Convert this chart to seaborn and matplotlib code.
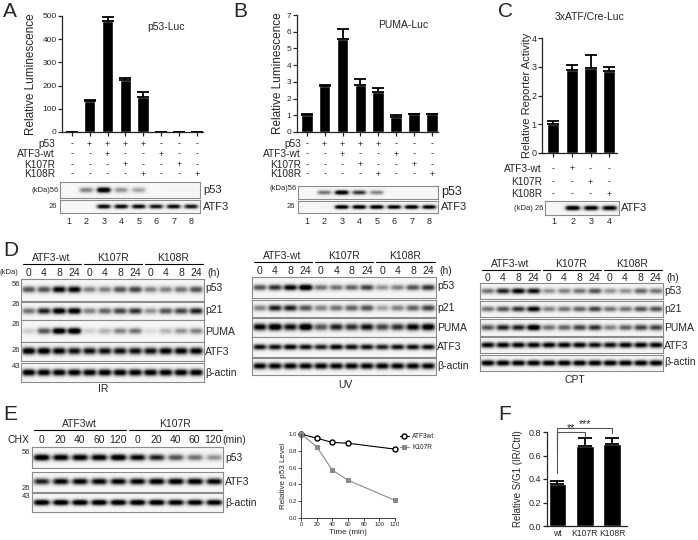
import numpy as np
import pandas as pd
import matplotlib
matplotlib.use('Agg')
import matplotlib.pyplot as plt
import seaborn as sns

sns.set_style('ticks')
plt.rcParams['font.family'] = ['Liberation Sans', 'DejaVu Sans']
plt.rcParams['axes.linewidth'] = 0.9
plt.rcParams['xtick.major.width'] = 0.9
plt.rcParams['ytick.major.width'] = 0.9

W, H = 698, 540

# ---- reporter assays ----
a_vals = [2, 135, 480, 222, 150, 2, 2, 2]
a_errs = [0, 5, 15, 10, 22, 0, 0, 0]
b_vals = [1.0, 2.75, 5.55, 2.8, 2.4, 0.92, 1.05, 1.05]
b_errs = [0.07, 0.08, 0.6, 0.35, 0.25, 0.1, 0.04, 0.05]
c_vals = [1.02, 2.9, 2.95, 2.85]
c_errs = [0.1, 0.17, 0.45, 0.15]

ab_rows = ['p53', 'ATF3-wt', 'K107R', 'K108R']
ab_signs = ['-++++---', '--+--+--', '---+--+-', '----+--+']
c_rows = ['ATF3-wt', 'K107R', 'K108R']
c_signs = ['-+--', '--+-', '---+']

# ---- CHX chase and S/G1 ----
chx_time = [0, 20, 40, 60, 120]
p53_wt = [1.0, 0.95, 0.9, 0.89, 0.82]
p53_k107r = [1.0, 0.85, 0.57, 0.45, 0.21]
f_groups = ['wt', 'K107R', 'K108R']
f_vals = [0.36, 0.68, 0.70]
f_errs = [0.02, 0.065, 0.05]

# ---- blot band intensities (0 = no band, 1 = saturated), read by eye ----
a_blot = {'p53': [0, .45, .95, .4, .35, 0, .03, .03],
          'ATF3': [0, 0, .85, .85, .85, .8, .85, .8]}
b_blot = {'p53': [0, .5, .95, .7, .45, 0, 0, 0],
          'ATF3': [0, .03, .95, .95, .95, .9, .95, .9]}
c_blot = {'ATF3': [0, .95, .9, .9]}
ir_blot = {'p53': [.6, .6, .85, .85, .45, .45, .6, .65, .45, .45, .5, .6],
           'p21': [.5, .75, .9, .9, .45, .55, .65, .7, .4, .6, .65, .75],
           'PUMA': [.2, .6, .95, .98, .2, .3, .45, .5, .15, .3, .4, .45],
           'ATF3': [.9, .9, .85, .8, .8, .8, .8, .8, .8, .85, .85, .85],
           'β-actin': [.9, .88, .88, .88, .88, .9, .88, .88, .88, .88, .88, .88]}
uv_blot = {'p53': [.6, .7, .85, .98, .5, .5, .55, .65, .4, .45, .6, .7],
           'p21': [.45, .75, .75, .6, .45, .5, .55, .6, .35, .45, .55, .65],
           'PUMA': [.85, .95, .8, .98, .6, .75, .7, .8, .65, .7, .85, .9],
           'ATF3': [.8, .8, .85, .8, .75, .85, .8, .8, .75, .8, .8, .8],
           'β-actin': [.85, .85, .85, .85, .85, .85, .85, .85, .85, .85, .85, .85]}
cpt_blot = {'p53': [.5, .75, .85, .8, .4, .45, .5, .6, .4, .4, .55, .5],
            'p21': [.5, .6, .7, .85, .45, .5, .55, .65, .5, .5, .6, .6],
            'PUMA': [.6, .75, .75, .95, .5, .55, .65, .7, .45, .55, .65, .65],
            'ATF3': [.85, .85, .85, .85, .85, .85, .85, .8, .8, .85, .85, .85],
            'β-actin': [.9, .9, .9, .9, .9, .9, .9, .9, .9, .9, .9, .9]}
e_blot = {'p53': [.95, .9, .9, .9, .95, .85, .75, .6, .5, .4],
          'ATF3': [.75, .85, .85, .85, .85, .85, .9, .9, .9, .85],
          'β-actin': [.95, .95, .95, .95, .95, .95, .95, .9, .9, .9]}

d_groups = ['ATF3-wt', 'K107R', 'K108R']
d_hours = ['0', '4', '8', '24']
e_groups = ['ATF3wt', 'K107R']
e_minutes = ['0', '20', '40', '60', '120']

fig = plt.figure(figsize=(W / 100, H / 100), dpi=100)

# overlay in pixel coordinates for labels, tables and lines
ov = fig.add_axes([0, 0, 1, 1])
ov.set_xlim(0, W)
ov.set_ylim(H, 0)
ov.axis('off')
ov.patch.set_visible(False)
ov.set_zorder(10)


def px_axes(x0, y0, x1, y1):
    return fig.add_axes([x0 / W, 1 - y1 / H, (x1 - x0) / W, (y1 - y0) / H])


def txt(x, y, s, size=7, ha='center', va='center', **kw):
    ov.text(x, y, s, fontsize=size, ha=ha, va=va, **kw)


def data_px(x0, x1, xlim, v):
    return x0 + (v - xlim[0]) / (xlim[1] - xlim[0]) * (x1 - x0)


def bar_panel(box, vals, errs, xlim, ylim, yticks, ylabel, label_x,
              fs=6, lab_fs=8.5, cap=4, xlabels=None):
    x0, y0, x1, y1 = box
    ax = px_axes(x0, y0, x1, y1)
    n = len(vals)
    df = pd.DataFrame({'pos': [str(i) for i in range(n)], 'val': vals})
    sns.barplot(data=df, x='pos', y='val', color='black', saturation=1,
                width=0.65, errorbar=None, ax=ax)
    ax.errorbar(np.arange(n), vals, yerr=[np.zeros(n), errs], fmt='none',
                ecolor='black', elinewidth=1.3, capsize=cap, capthick=1.3)
    ax.set_xlim(*xlim)
    ax.set_ylim(*ylim)
    ax.set_yticks(yticks)
    ax.set_xticks(range(n))
    ax.set_xticklabels(xlabels if xlabels else [])
    ax.set_xlabel('')
    ax.set_ylabel(ylabel, fontsize=lab_fs)
    ax.yaxis.set_label_coords((label_x - x0) / (x1 - x0), 0.5)
    ax.tick_params(labelsize=fs, length=3, pad=1)
    sns.despine(ax=ax)
    return ax


def blot(box, levels, band=0.38, hw=0.42):
    x0, y0, x1, y1 = box
    ax = px_axes(x0, y0, x1, y1)
    n = len(levels)
    gx = np.linspace(0, n, int((x1 - x0) * 4))
    gy = np.linspace(-1, 1, int((y1 - y0) * 4))
    img = np.full((len(gy), len(gx)), 0.07)
    vp = np.exp(-(gy / band) ** 2)
    for i, lv in enumerate(levels):
        hp = np.exp(-((gx - (i + 0.5)) / hw) ** 4)
        img += lv * 1.15 * vp[:, None] * hp[None, :]
    ax.imshow(np.clip(img, 0, 1), cmap='Greys', vmin=0, vmax=1,
              extent=(0, n, 0, 1), aspect='auto', interpolation='bilinear')
    ax.set_xticks([])
    ax.set_yticks([])
    for s in ax.spines.values():
        s.set_color('#8c8c8c')
        s.set_linewidth(0.8)
    return ax


def lane_centers(x0, x1, n):
    w = (x1 - x0) / n
    return [x0 + (i + 0.5) * w for i in range(n)]


# ---------------- A ----------------
txt(3, 2, 'A', size=15, ha='left', va='top')
a_box, a_xlim = (62, 16, 203, 132), (-0.55, 7.35)
bar_panel(a_box, a_vals, a_errs, a_xlim, (0, 500), range(0, 501, 100),
          'Relative Luminescence', 37)
txt(147, 27, 'p53-Luc', size=7.5, ha='left')
for r, (lab, signs) in enumerate(zip(ab_rows, ab_signs)):
    y = [144, 154, 165, 174][r]
    txt(55, y, lab, size=7.3, ha='right')
    for i, s in enumerate(signs):
        txt(data_px(62, 203, a_xlim, i), y, s, size=6.5)
blot((60, 182, 200, 198), a_blot['p53'])
blot((60, 200, 200, 213), a_blot['ATF3'])
txt(59, 190, '(kDa)56', size=5.5, ha='right')
txt(57, 207, '26', size=5.5, ha='right')
txt(203, 190, 'p53', size=8, ha='left')
txt(203, 207, 'ATF3', size=8, ha='left')
for i, x in enumerate(lane_centers(60, 200, 8)):
    txt(x, 221, str(i + 1), size=6.5)

# ---------------- B ----------------
txt(233, 2, 'B', size=15, ha='left', va='top')
b_box, b_xlim = (297, 15, 438, 132), (-0.55, 7.35)
bar_panel(b_box, b_vals, b_errs, b_xlim, (0, 7), range(0, 8),
          'Relative Luminescence', 284)
txt(378, 25, 'PUMA-Luc', size=7.5, ha='left')
for r, (lab, signs) in enumerate(zip(ab_rows, ab_signs)):
    y = [144, 154, 165, 174][r]
    txt(301, y, lab, size=7.3, ha='right')
    for i, s in enumerate(signs):
        txt(data_px(297, 438, b_xlim, i), y, s, size=6.5)
blot((298, 186, 438, 199), b_blot['p53'])
blot((298, 201, 438, 213), b_blot['ATF3'])
txt(297, 188, '(kDa)56', size=5.5, ha='right')
txt(295, 207, '26', size=5.5, ha='right')
txt(441, 192, 'p53', size=9, ha='left')
txt(441, 207, 'ATF3', size=8, ha='left')
for i, x in enumerate(lane_centers(298, 438, 8)):
    txt(x, 221, str(i + 1), size=6.5)

# ---------------- C ----------------
txt(498, 2, 'C', size=15, ha='left', va='top')
c_box, c_xlim = (542, 38, 617, 153), (-0.6, 3.42)
bar_panel(c_box, c_vals, c_errs, c_xlim, (0, 4), range(0, 5),
          'Relative Reporter Activity', 532, fs=6.5, lab_fs=8)
txt(590, 17, '3xATF/Cre-Luc', size=7.5)
for r, (lab, signs) in enumerate(zip(c_rows, c_signs)):
    y = [169, 182, 194][r]
    txt(542, y, lab, size=7.3, ha='right')
    for i, s in enumerate(signs):
        txt(data_px(542, 617, c_xlim, i), y, s, size=6.5)
blot((545, 201, 619, 215), c_blot['ATF3'])
txt(543, 208, '(kDa) 26', size=5.5, ha='right')
txt(621, 208, 'ATF3', size=8, ha='left')
for i, x in enumerate(lane_centers(545, 619, 4)):
    txt(x, 221, str(i + 1), size=6.5)

# ---------------- D ----------------
txt(3, 241, 'D', size=15, ha='left', va='top')
d_layout = [
    ('IR', ir_blot, (21, 204), 258, 264, 273,
     [(279, 301), (302, 320), (320, 342), (342, 361), (363, 382)],
     [288, 310, 332, 352, 373], (103, 389)),
    ('UV', uv_blot, (252, 436), 256, 262, 271,
     [(277, 298), (300, 317), (318, 337), (337, 357), (358, 375)],
     [286, 308, 328, 347, 366], (345, 385)),
    ('CPT', cpt_blot, (480, 663), 264, 270, 278,
     [(283, 299), (301, 317), (319, 336), (337, 353), (355, 371)],
     [291, 309, 328, 346, 362], (575, 380)),
]
for name, bands, (x0, x1), hy, ly, ty, rows, lab_y, name_xy in d_layout:
    lw_ = (x1 - x0) / 12
    for g, grp in enumerate(d_groups):
        gx0, gx1 = x0 + 4 * g * lw_ + 1.5, x0 + 4 * (g + 1) * lw_ - 1.5
        ov.plot([gx0, gx1], [ly, ly], color='black', lw=0.8)
        txt((gx0 + gx1) / 2, hy, grp, size=7.5)
    for i, x in enumerate(lane_centers(x0, x1, 12)):
        txt(x, ty, d_hours[i % 4], size=7.5)
    txt(x1 + 3, ty, '(h)', size=7.5, ha='left')
    for (ry0, ry1), (lab, lv), yl in zip(rows, bands.items(), lab_y):
        blot((x0, ry0, x1, ry1), lv, band=0.32 if ry1 - ry0 > 19 else 0.4,
             hw=0.46)
        txt(x1 + 1, yl, lab, size=7.5, ha='left')
    txt(*name_xy, name, size=7.5)
txt(0, 273, '(kDa)', size=5.5, ha='left')
for y, mw in zip([284, 305, 325, 351, 367], ['56', '26', '26', '26', '43']):
    txt(20, y, mw, size=5.5, ha='right')

# ---------------- E ----------------
txt(3, 405, 'E', size=15, ha='left', va='top')
ex0, ex1 = 32, 223
elw = (ex1 - ex0) / 10
for g, grp in enumerate(e_groups):
    gx0, gx1 = ex0 + 5 * g * elw + 1.5, ex0 + 5 * (g + 1) * elw - 1.5
    ov.plot([gx0, gx1], [430, 430], color='black', lw=0.8)
    txt((gx0 + gx1) / 2, 424, grp, size=7.5)
txt(7, 440, 'CHX', size=7.5, ha='left')
for i, x in enumerate(lane_centers(ex0, ex1, 10)):
    txt(x, 440, e_minutes[i % 5], size=7.5)
txt(222, 440, '(min)', size=7.5, ha='left')
for (ry0, ry1), (lab, lv), yl in zip([(447, 468), (472, 492), (493, 512)],
                                     e_blot.items(), [458, 482, 503]):
    blot((ex0, ry0, ex1, ry1), lv, band=0.34, hw=0.44)
    txt(ex1 + 2, yl, lab, size=7.5, ha='left')
for y, mw in zip([452, 488, 496], ['56', '26', '43']):
    txt(30, y, mw, size=5.5, ha='right')

ax_e = px_axes(301, 434, 395, 518)
sns.lineplot(x=chx_time, y=p53_wt, ax=ax_e, color='black', lw=0.8,
             marker='o', markersize=3.6, markerfacecolor='white',
             markeredgecolor='black', markeredgewidth=1.0, clip_on=False,
             label='ATF3wt')
sns.lineplot(x=chx_time, y=p53_k107r, ax=ax_e, color='#8a8a8a', lw=0.8,
             marker='s', markersize=3.2, markeredgecolor='#8a8a8a',
             clip_on=False, label='K107R')
ax_e.set_xlim(0, 120)
ax_e.set_ylim(0, 1.0)
ax_e.set_xticks(range(0, 121, 20))
ax_e.set_yticks(np.linspace(0, 1, 6))
ax_e.set_yticklabels([f'{v:.1f}' for v in np.linspace(0, 1, 6)])
ax_e.tick_params(labelsize=4.3, length=2, width=0.6, pad=1)
for s in ax_e.spines.values():
    s.set_linewidth(0.6)
sns.despine(ax=ax_e)
ax_e.set_xlabel('Time (min)', fontsize=5.8, labelpad=1)
ax_e.set_ylabel('Relative p53 Level', fontsize=5.8)
ax_e.yaxis.set_label_coords((287 - 301) / 94, 0.5)
ax_e.legend(loc='upper left', bbox_to_anchor=(1.02, 1.04), frameon=False,
            fontsize=4.8, handlelength=1.4, handletextpad=0.5,
            borderaxespad=0, labelspacing=0.6)

# ---------------- F ----------------
txt(498, 405, 'F', size=15, ha='left', va='top')
f_xlim = (-0.38, 2.55)
ax_f = bar_panel((547, 432, 627, 526), f_vals, f_errs, f_xlim, (0, 0.8),
                 [0, 0.2, 0.4, 0.6, 0.8], 'Relative S/G1 (IR/Ctrl)', 523,
                 fs=6.5, lab_fs=7, cap=5, xlabels=f_groups)
ax_f.set_yticklabels(['0.0', '0.2', '0.4', '0.6', '0.8'])
ax_f.tick_params(axis='x', labelsize=6.2, length=0, pad=2)
for xa, xb, yb, ya_l, ya_r, star in [(0, 1, 0.80, 0.62, 0.76, '**'),
                                    (0, 2, 0.835, 0.45, 0.79, '***')]:
    ax_f.plot([xa, xa, xb, xb], [ya_l, yb, yb, ya_r], color='#555555',
              lw=0.8, clip_on=False)
    ax_f.text((xa + xb) / 2, yb - 0.012, star, fontsize=7.5, ha='center',
              va='bottom')

fig.savefig('out.png', dpi=100)
